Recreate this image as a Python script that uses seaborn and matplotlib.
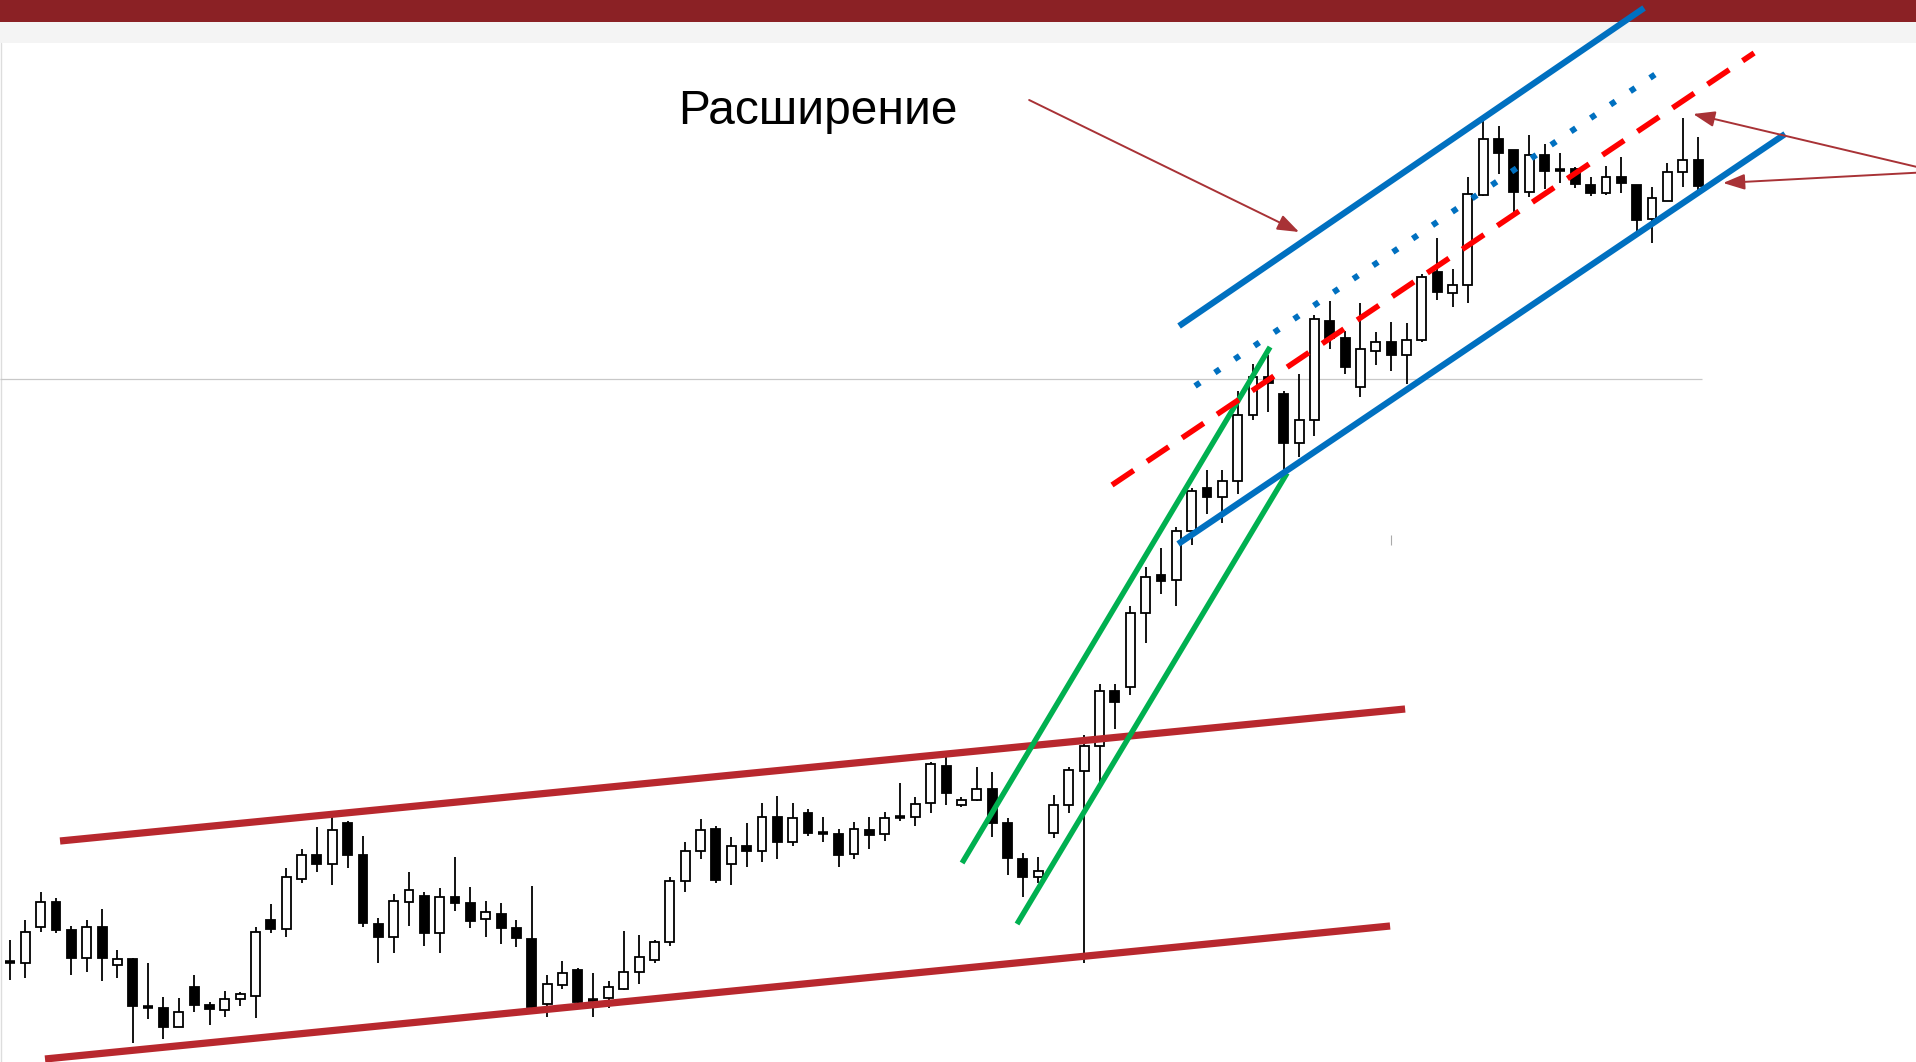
import matplotlib
matplotlib.use("Agg")
import matplotlib.pyplot as plt
import numpy as np
import seaborn as sns

# OHLC (arbitrary price units)
open_ = [100, 99, 135, 160, 132, 104, 135, 97, 103, 55, 54, 35, 75, 57, 52, 63, 66, 142, 133, 183,
         207, 198, 239, 207, 138, 125, 160, 166, 129, 165, 159, 143, 148, 134, 123, 58, 77, 92, 62, 64,
         73, 90, 102, 120, 181, 211, 233, 198, 216, 211, 245, 220, 249, 229, 228, 208, 232, 228, 245, 245,
         259, 296, 257, 262, 273, 239, 203, 185, 229, 257, 291, 316, 371, 375, 449, 487, 482, 531, 574, 565,
         581, 647, 685, 668, 619, 642, 741, 724, 675, 711, 720, 707, 722, 790, 769, 777, 867, 923, 912, 870,
         907, 892, 893, 877, 869, 885, 877, 843, 861, 890, 902]
high = [122, 142, 170, 164, 136, 142, 153, 112, 104, 99, 65, 64, 87, 60, 71, 70, 135, 158, 194, 213,
        235, 245, 241, 226, 144, 168, 190, 170, 174, 205, 175, 161, 159, 142, 176, 87, 101, 94, 89, 81,
        131, 127, 122, 185, 220, 243, 236, 225, 239, 259, 266, 259, 253, 245, 233, 240, 245, 250, 279, 265,
        300, 305, 265, 295, 290, 244, 209, 205, 267, 295, 327, 378, 378, 456, 495, 514, 535, 574, 592, 592,
        671, 698, 707, 671, 688, 747, 761, 731, 759, 730, 740, 739, 788, 824, 793, 885, 947, 936, 912, 927,
        918, 909, 895, 885, 896, 905, 877, 875, 899, 944, 925]
low = [82, 84, 130, 129, 87, 90, 81, 84, 19, 43, 23, 35, 50, 37, 45, 56, 44, 129, 125, 179,
       190, 177, 194, 135, 99, 109, 136, 116, 109, 151, 134, 125, 118, 115, 52, 45, 73, 54, 45, 54,
       72, 78, 99, 116, 170, 203, 179, 177, 195, 200, 203, 216, 226, 220, 195, 203, 213, 221, 241, 236,
       249, 257, 255, 261, 225, 187, 165, 179, 224, 249, 99, 280, 333, 367, 419, 468, 456, 517, 548, 539,
       568, 642, 650, 592, 605, 626, 713, 688, 665, 697, 691, 678, 720, 762, 755, 759, 866, 888, 850, 865,
       873, 879, 874, 866, 867, 869, 830, 819, 861, 875, 872]
close = [100, 130, 160, 132, 104, 135, 104, 103, 56, 55, 35, 50, 57, 53, 63, 68, 130, 133, 185, 207,
         198, 232, 207, 139, 125, 161, 172, 129, 165, 159, 141, 150, 134, 124, 55, 78, 89, 60, 62, 75,
         90, 105, 120, 181, 211, 232, 182, 216, 211, 245, 220, 244, 229, 229, 207, 233, 227, 244, 245, 258,
         298, 269, 262, 273, 239, 204, 185, 191, 257, 292, 316, 371, 360, 449, 485, 481, 531, 571, 565, 581,
         647, 685, 679, 619, 642, 743, 724, 695, 713, 720, 707, 722, 785, 770, 777, 868, 923, 909, 870, 907,
         891, 892, 878, 869, 885, 879, 842, 864, 890, 902, 876]

# hand-drawn lines: (x in candle index, price)
red_upper_x, red_upper_y = [3.26, 90.91], [221, 353]
red_lower_x, red_lower_y = [2.28, 89.93], [3, 136]
green1_x, green1_y = [62.04, 82.11], [199, 715]
green2_x, green2_y = [65.62, 83.22], [138, 589]
blue_upper_x, blue_upper_y = [76.18, 106.48], [736, 1054]
blue_lower_x, blue_lower_y = [76.12, 115.67], [518, 928]
blue_dot_x, blue_dot_y = [77.22, 107.53], [676, 991]
red_dash_x, red_dash_y = [71.81, 113.65], [577, 1009]
ref_level = 683

label_text = "Расширение"
label_pos = (52.65, 950)
arrows = [((66.41, 962), (84.0, 830)),
          ((125.1, 892), (109.68, 948)),
          ((125.1, 890), (111.63, 879))]

sns.set_theme(style="white")

fig = plt.figure(figsize=(19.16, 10.62), dpi=100)
ax = fig.add_axes([0, 0, 1, 1])
ax.set_axis_off()
ax.set_xlim(-0.652, 124.2)
ax.set_ylim(0, 1062)

# page header bands
ax.axhspan(1040, 1062, color="#8B2125", zorder=0, lw=0)
ax.axhspan(1019, 1040, color="#F4F4F4", zorder=0, lw=0)
ax.axvline(-0.6, ymax=1019 / 1062, color="#DDDDDD", lw=1, zorder=0)

# reference level
ax.hlines(ref_level, -0.652, 110.26, color="#C8C8C8", lw=0.9, zorder=1)
ax.vlines(90.0, 517, 527, color="#AAAAAA", lw=0.8, zorder=1)

# candles
o, h, l, c = map(np.asarray, (open_, high, low, close))
idx = np.arange(len(o))
up = c > o
ax.vlines(idx, l, h, color="black", lw=1.3, zorder=2)
ax.bar(idx, np.abs(c - o), bottom=np.minimum(o, c), width=0.58,
       color=np.where(up, "white", "black"), edgecolor="black", lw=1.3, zorder=3)
doji = c == o
ax.hlines(o[doji], idx[doji] - 0.32, idx[doji] + 0.32, color="black", lw=2.6, zorder=3)

# trend lines
def trend(x, y, color, lw, ls="-"):
    sns.lineplot(x=x, y=y, ax=ax, color=color, lw=lw, linestyle=ls,
                 solid_capstyle="butt", dash_capstyle="butt", zorder=5, legend=False)

trend(red_upper_x, red_upper_y, "#B8282E", 5.2)
trend(red_lower_x, red_lower_y, "#B8282E", 5.2)
trend(green1_x, green1_y, "#00B050", 3.9)
trend(green2_x, green2_y, "#00B050", 3.9)
trend(blue_upper_x, blue_upper_y, "#0070C0", 4.5)
trend(blue_lower_x, blue_lower_y, "#0070C0", 4.5)
trend(blue_dot_x, blue_dot_y, "#0070C0", 4.3, (0, (1, 3)))
trend(red_dash_x, red_dash_y, "#FF0000", 4, (0, (4.7, 2.9)))

ax.text(*label_pos, label_text, fontsize=34.5, family=["Liberation Sans", "DejaVu Sans"],
        ha="center", va="center", color="black", zorder=6)

for tail, head in arrows:
    ax.annotate("", xy=head, xytext=tail, annotation_clip=False,
                arrowprops=dict(arrowstyle="-|>,head_length=0.55,head_width=0.2",
                                color="#A83236", lw=1.4, mutation_scale=24,
                                shrinkA=0, shrinkB=0), zorder=6)

fig.savefig("out.png", dpi=100)
